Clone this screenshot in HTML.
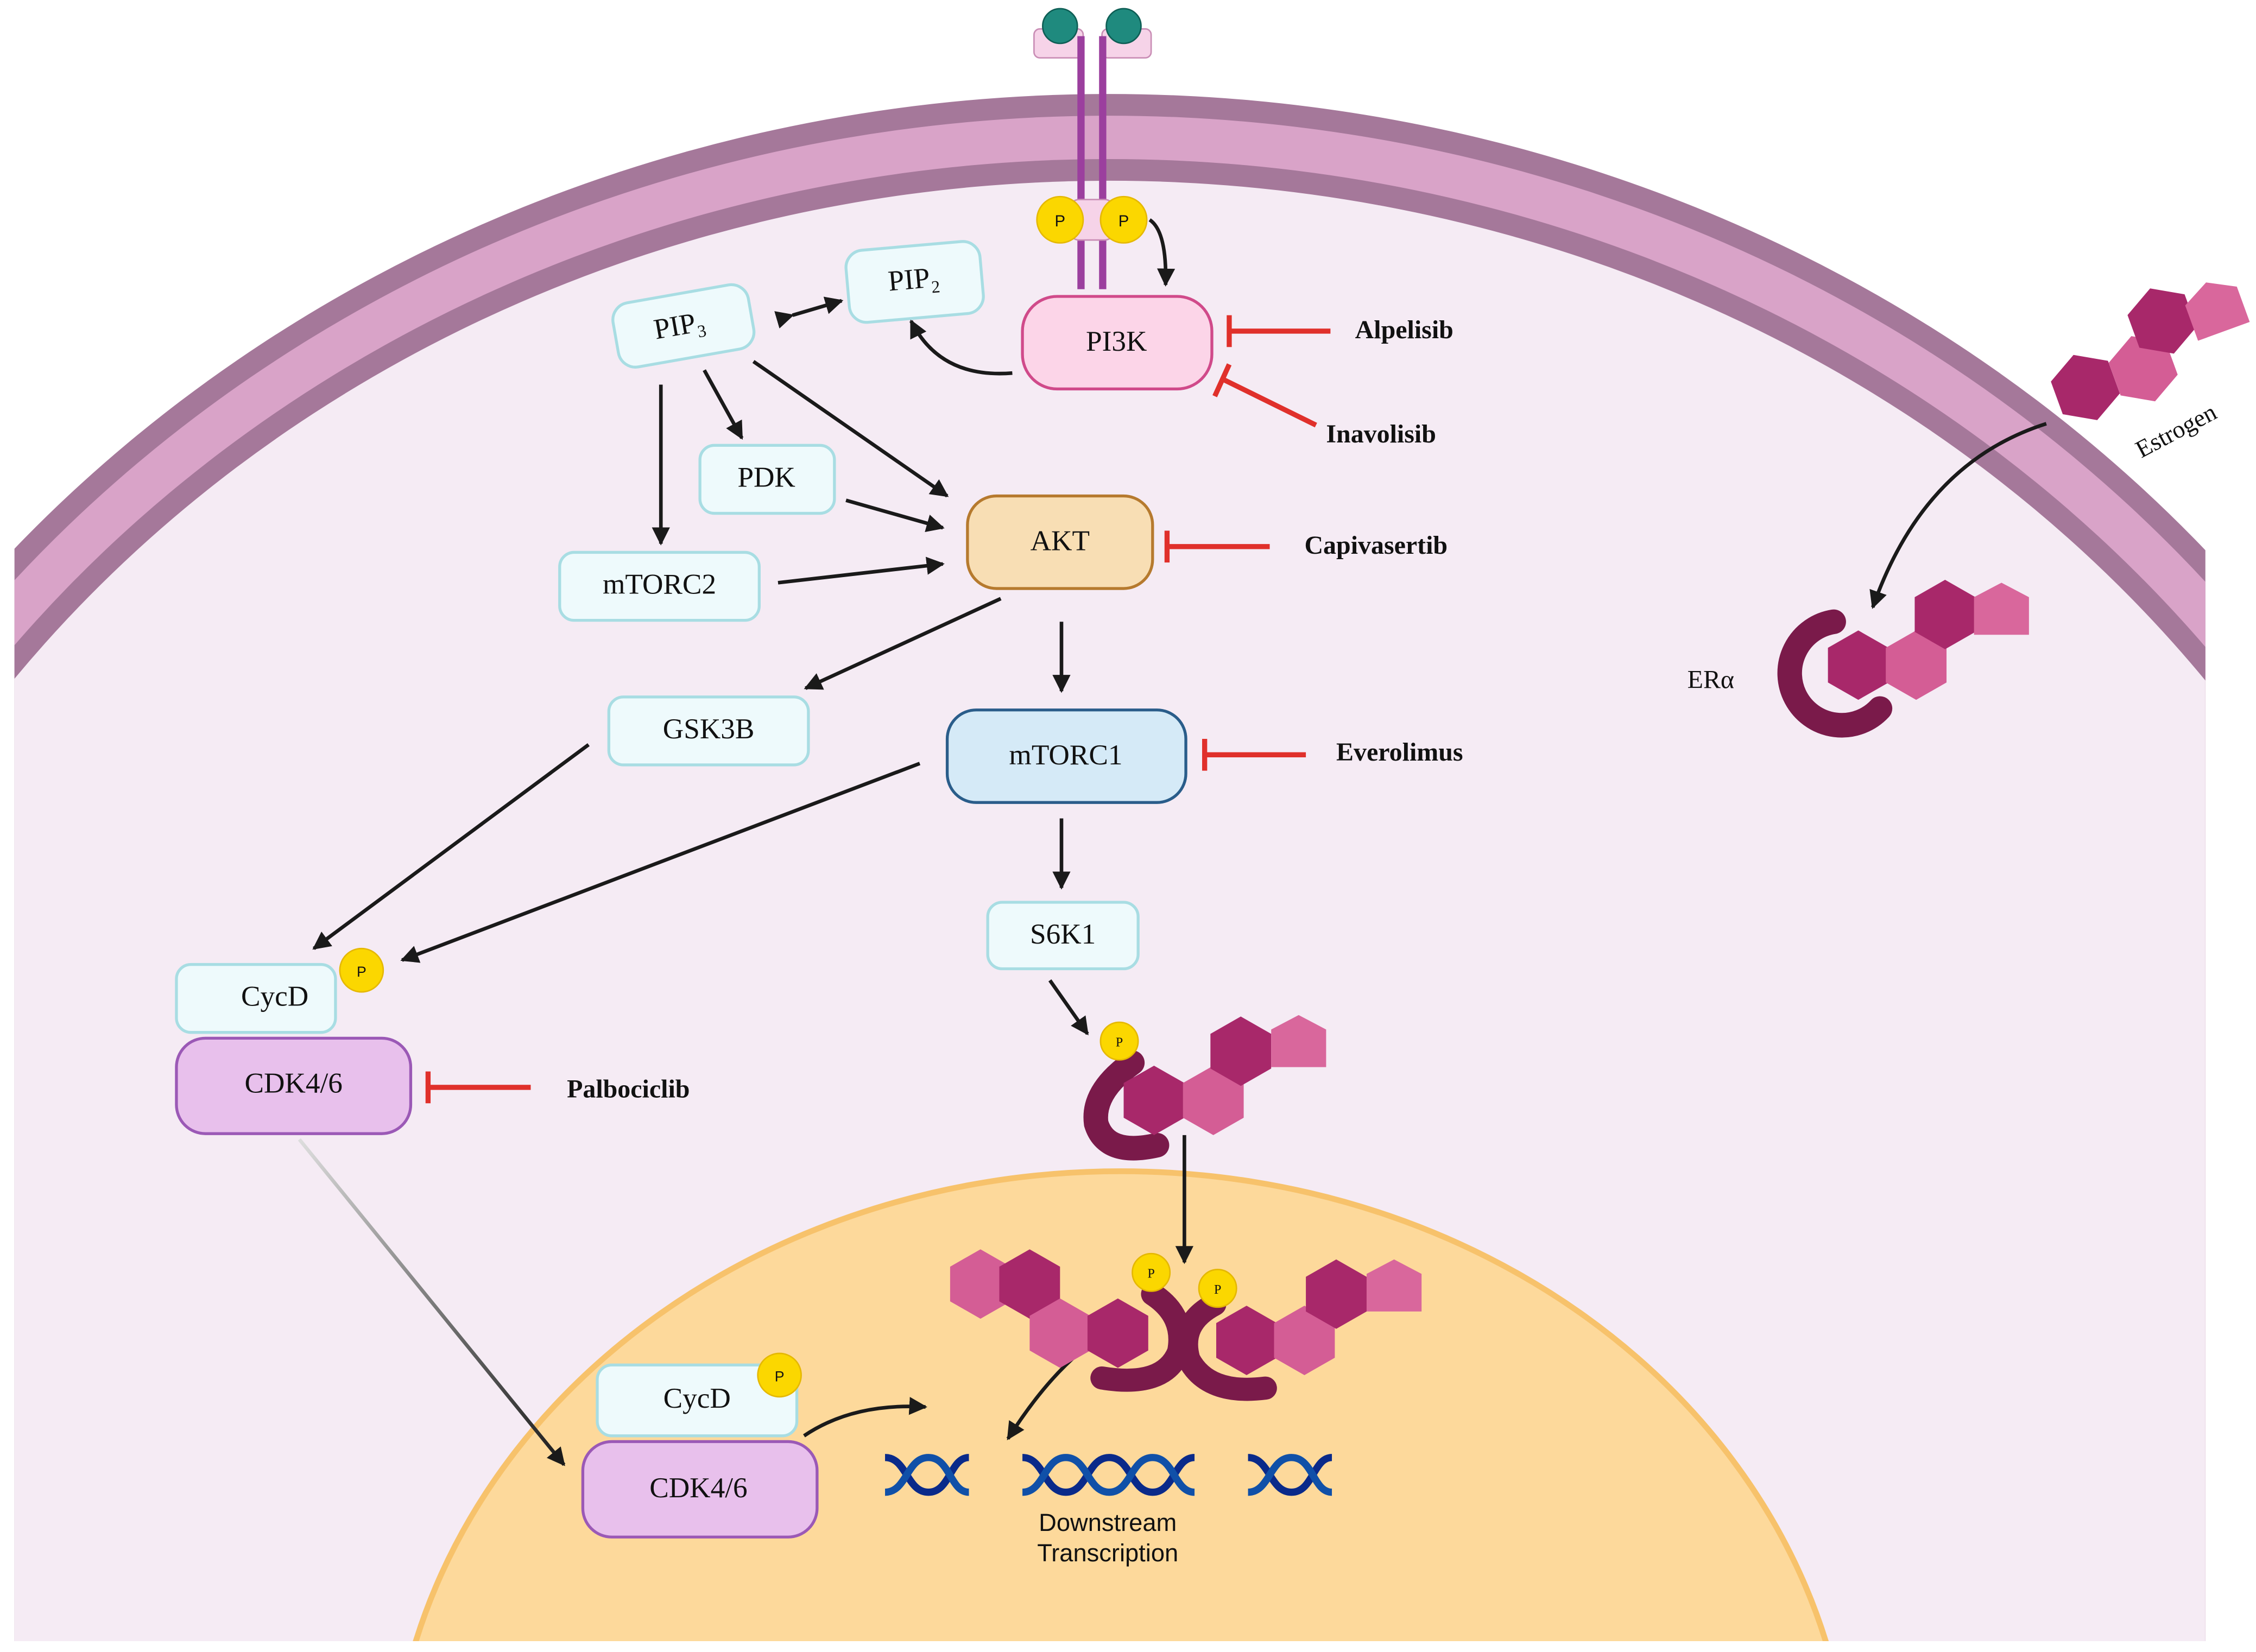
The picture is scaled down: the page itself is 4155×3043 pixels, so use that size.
<!DOCTYPE html>
<html><head><meta charset="utf-8"><style>
html,body{margin:0;padding:0;background:#fff;width:4155px;height:3043px;overflow:hidden;}
svg{display:block;}
.n{font-family:"Liberation Serif",serif;font-size:20px;fill:#111;text-anchor:middle;dominant-baseline:central;}
.d{font-family:"Liberation Serif",serif;font-size:18px;font-weight:bold;fill:#111;}
</style></head><body>
<svg width="4155" height="3043" viewBox="0 0 1560 1142.5" preserveAspectRatio="none" xmlns="http://www.w3.org/2000/svg">
<defs>
<marker id="a" viewBox="0 0 10 10" refX="9" refY="5" markerWidth="5" markerHeight="5" orient="auto"><path d="M0,0L10,5L0,10z" fill="#1a1a1a"/></marker>
<clipPath id="c"><rect x="10" y="0" width="1515" height="1135"/></clipPath>
<polygon id="h" points="0,-24 21,-12 21,12 0,24 -21,12 -21,-12"/>
<polygon id="p" points="-19,-12 0,-22 19,-12 19,14 -19,14"/>
<linearGradient id="g" x1="0" y1="0" x2="1" y2="1"><stop offset="0" stop-color="#ddd"/><stop offset="1" stop-color="#1a1a1a"/></linearGradient>
</defs>
<rect width="1560" height="1143" fill="#fff"/>
<g clip-path="url(#c)">
<ellipse cx="767" cy="1000" rx="1012" ry="935" fill="#a5789a"/>
<ellipse cx="767" cy="1000" rx="997" ry="920" fill="#d9a3c8"/>
<ellipse cx="767" cy="1000" rx="967" ry="890" fill="#a5789a"/>
<ellipse cx="767" cy="1000" rx="952" ry="875" fill="#f5ebf4"/>
<ellipse cx="775" cy="1250" rx="505" ry="440" fill="#fdd99b" stroke="#f7c26b" stroke-width="4"/>
</g>
<!-- receptor -->
<rect x="715" y="20" width="34" height="20" rx="4" fill="#f6d3e8" stroke="#c98db5"/>
<rect x="762" y="20" width="34" height="20" rx="4" fill="#f6d3e8" stroke="#c98db5"/>
<circle cx="733" cy="18" r="12" fill="#1f8a7e" stroke="#0e5e55"/>
<circle cx="777" cy="18" r="12" fill="#1f8a7e" stroke="#0e5e55"/>
<rect x="745" y="25" width="5" height="175" fill="#9b3f9e"/>
<rect x="760" y="25" width="5" height="175" fill="#9b3f9e"/>
<rect x="740" y="138" width="30" height="28" rx="6" fill="#f6d3e8" stroke="#c98db5"/>
<circle cx="733" cy="152" r="16" fill="#fbd700" stroke="#e5b800"/><text x="733" y="153" class="n" style="font-size:11px;font-family:'Liberation Sans',sans-serif">P</text>
<circle cx="777" cy="152" r="16" fill="#fbd700" stroke="#e5b800"/><text x="777" y="153" class="n" style="font-size:11px;font-family:'Liberation Sans',sans-serif">P</text>
<g fill="none" stroke="#1a1a1a" stroke-width="2.5" marker-end="url(#a)">
<path d="M795,152 Q807,160 806,197"/>
<path d="M700,258 Q650,262 630,222"/>
<line x1="548" y1="218" x2="582" y2="208" marker-start="url(#a)"/>
<line x1="457" y1="266" x2="457" y2="376"/>
<line x1="487" y1="256" x2="513" y2="303"/>
<line x1="521" y1="250" x2="655" y2="343"/>
<line x1="585" y1="346" x2="652" y2="365"/>
<line x1="538" y1="403" x2="652" y2="390"/>
<line x1="692" y1="414" x2="557" y2="476"/>
<line x1="734" y1="430" x2="734" y2="478"/>
<line x1="407" y1="515" x2="217" y2="656"/>
<line x1="636" y1="528" x2="278" y2="664"/>
<line x1="734" y1="566" x2="734" y2="614"/>
<line x1="726" y1="678" x2="752" y2="715"/>
<line x1="819" y1="785" x2="819" y2="873"/>
<path d="M776,916 Q735,935 697,995"/>
<path d="M556,993 Q590,970 640,973"/>
<path d="M1415,293 Q1330,320 1295,420"/>
<line x1="207" y1="788" x2="390" y2="1013" stroke="url(#g)"/>
</g>
<!-- inhibitors -->
<g stroke="#e0302b" stroke-width="3.5" fill="none">
<line x1="850" y1="229" x2="920" y2="229"/><line x1="850" y1="218" x2="850" y2="240"/>
<line x1="845" y1="262" x2="910" y2="294"/><line x1="850" y1="252" x2="840" y2="274"/>
<line x1="807" y1="378" x2="878" y2="378"/><line x1="807" y1="367" x2="807" y2="389"/>
<line x1="833" y1="522" x2="903" y2="522"/><line x1="833" y1="511" x2="833" y2="533"/>
<line x1="296" y1="752" x2="367" y2="752"/><line x1="296" y1="741" x2="296" y2="763"/>
</g>
<text x="937" y="234" class="d">Alpelisib</text>
<text x="917" y="306" class="d">Inavolisib</text>
<text x="902" y="383" class="d">Capivasertib</text>
<text x="924" y="526" class="d">Everolimus</text>
<text x="392" y="759" class="d">Palbociclib</text>
<!-- nodes -->
<g stroke-width="2">
<rect x="425" y="203" width="95" height="45" rx="12" fill="#eefafc" stroke="#a8dde3" transform="rotate(-10 472 225)"/>
<rect x="586" y="170" width="93" height="50" rx="12" fill="#eefafc" stroke="#a8dde3" transform="rotate(-5 632 195)"/>
<rect x="707" y="205" width="131" height="64" rx="24" fill="#fcd5e8" stroke="#d04a8a"/>
<rect x="484" y="308" width="93" height="47" rx="10" fill="#eefafc" stroke="#a8dde3"/>
<rect x="387" y="382" width="138" height="47" rx="10" fill="#eefafc" stroke="#a8dde3"/>
<rect x="669" y="343" width="128" height="64" rx="20" fill="#f8deb4" stroke="#b67a2e"/>
<rect x="421" y="482" width="138" height="47" rx="10" fill="#eefafc" stroke="#a8dde3"/>
<rect x="655" y="491" width="165" height="64" rx="20" fill="#d5eaf7" stroke="#2a5d8a"/>
<rect x="683" y="624" width="104" height="46" rx="10" fill="#eefafc" stroke="#a8dde3"/>
<rect x="122" y="667" width="110" height="47" rx="10" fill="#eefafc" stroke="#a8dde3"/>
<rect x="122" y="718" width="162" height="66" rx="20" fill="#e8c0ec" stroke="#9b59b6"/>
<rect x="413" y="944" width="138" height="49" rx="10" fill="#eefafc" stroke="#a8dde3"/>
<rect x="403" y="997" width="162" height="66" rx="20" fill="#e8c0ec" stroke="#9b59b6"/>
</g>
<text x="470" y="225" class="n" transform="rotate(-10 470 225)">PIP₃</text>
<text x="632" y="193" class="n" transform="rotate(-5 632 193)">PIP₂</text>
<text x="772" y="236" class="n">PI3K</text>
<text x="530" y="330" class="n">PDK</text>
<text x="456" y="404" class="n">mTORC2</text>
<text x="733" y="374" class="n">AKT</text>
<text x="490" y="504" class="n">GSK3B</text>
<text x="737" y="522" class="n">mTORC1</text>
<text x="735" y="646" class="n">S6K1</text>
<text x="190" y="689" class="n">CycD</text>
<text x="203" y="749" class="n">CDK4/6</text>
<text x="482" y="967" class="n">CycD</text>
<text x="483" y="1029" class="n">CDK4/6</text>
<circle cx="250" cy="671" r="15" fill="#fbd700" stroke="#e5b800"/><text x="250" y="672" class="n" style="font-size:10px;font-family:'Liberation Sans',sans-serif">P</text>
<circle cx="539" cy="951" r="15" fill="#fbd700" stroke="#e5b800"/><text x="539" y="952" class="n" style="font-size:10px;font-family:'Liberation Sans',sans-serif">P</text>
<!-- estrogen top right -->
<use href="#h" x="1442" y="268" fill="#a8286a" transform="rotate(-20 1442 268)"/>
<use href="#h" x="1482" y="255" fill="#d45d95" transform="rotate(-20 1482 255)"/>
<use href="#h" x="1495" y="222" fill="#a8286a" transform="rotate(-20 1495 222)"/>
<use href="#p" x="1533" y="216" fill="#d9679c" transform="rotate(-20 1533 216)"/>
<text x="1478" y="312" class="n" style="font-size:17px;text-anchor:start" transform="rotate(-28 1478 312)">Estrogen</text>
<!-- ERa cytoplasm -->
<path d="M1268,430 A36,36 0 1 0 1300,490" fill="none" stroke="#7a1a4a" stroke-width="17" stroke-linecap="round"/>
<use href="#h" x="1285" y="460" fill="#a8286a"/>
<use href="#h" x="1325" y="460" fill="#d45d95"/>
<use href="#h" x="1345" y="425" fill="#a8286a"/>
<use href="#p" x="1384" y="425" fill="#d9679c"/>
<text x="1183" y="470" class="n" style="font-size:18px">ERα</text>
<!-- ER with P -->
<path d="M783,735 Q755,755 758,777 Q765,800 800,792" fill="none" stroke="#7a1a4a" stroke-width="17" stroke-linecap="round"/>
<circle cx="774" cy="720" r="13" fill="#fbd700" stroke="#e5b800"/><text x="774" y="721" class="n" style="font-size:9px">P</text>
<use href="#h" x="798" y="761" fill="#a8286a"/>
<use href="#h" x="839" y="761" fill="#d45d95"/>
<use href="#h" x="858" y="727" fill="#a8286a"/>
<use href="#p" x="898" y="724" fill="#d9679c"/>
<!-- dimer -->
<use href="#h" x="678" y="888" fill="#d45d95"/>
<use href="#h" x="712" y="888" fill="#a8286a"/>
<use href="#h" x="733" y="922" fill="#d45d95"/>
<use href="#h" x="773" y="922" fill="#a8286a"/>
<use href="#h" x="862" y="927" fill="#a8286a"/>
<use href="#h" x="902" y="927" fill="#d45d95"/>
<use href="#h" x="924" y="895" fill="#a8286a"/>
<use href="#p" x="964" y="893" fill="#d9679c"/>
<path d="M797,895 Q820,910 815,935 Q805,960 762,953" fill="none" stroke="#7a1a4a" stroke-width="16" stroke-linecap="round"/>
<path d="M840,902 Q815,915 822,940 Q835,965 875,960" fill="none" stroke="#7a1a4a" stroke-width="16" stroke-linecap="round"/>
<circle cx="796" cy="880" r="13" fill="#fbd700" stroke="#e5b800"/><text x="796" y="881" class="n" style="font-size:9px">P</text>
<circle cx="842" cy="891" r="13" fill="#fbd700" stroke="#e5b800"/><text x="842" y="892" class="n" style="font-size:9px">P</text>
<!-- DNA -->
<g fill="none" stroke-width="5">
<path d="M612,1008 C627,1008 627,1032 642,1032 C657,1032 657,1008 670,1008" stroke="#0a2a8a"/>
<path d="M612,1032 C627,1032 627,1008 642,1008 C657,1008 657,1032 670,1032" stroke="#1050a8"/>
<path d="M707,1008 C722,1008 722,1032 737,1032 C752,1032 752,1008 767,1008 C782,1008 782,1032 797,1032 C812,1032 812,1008 826,1008" stroke="#0a2a8a"/>
<path d="M707,1032 C722,1032 722,1008 737,1008 C752,1008 752,1032 767,1032 C782,1032 782,1008 797,1008 C812,1008 812,1032 826,1032" stroke="#1050a8"/>
<path d="M863,1008 C878,1008 878,1032 893,1032 C908,1032 908,1008 921,1008" stroke="#0a2a8a"/>
<path d="M863,1032 C878,1032 878,1008 893,1008 C908,1008 908,1032 921,1032" stroke="#1050a8"/>
</g>
<text x="766" y="1053" class="n" style="font-family:'Liberation Sans',sans-serif;font-size:17px">Downstream</text>
<text x="766" y="1074" class="n" style="font-family:'Liberation Sans',sans-serif;font-size:17px">Transcription</text>
</svg>
</body></html>
